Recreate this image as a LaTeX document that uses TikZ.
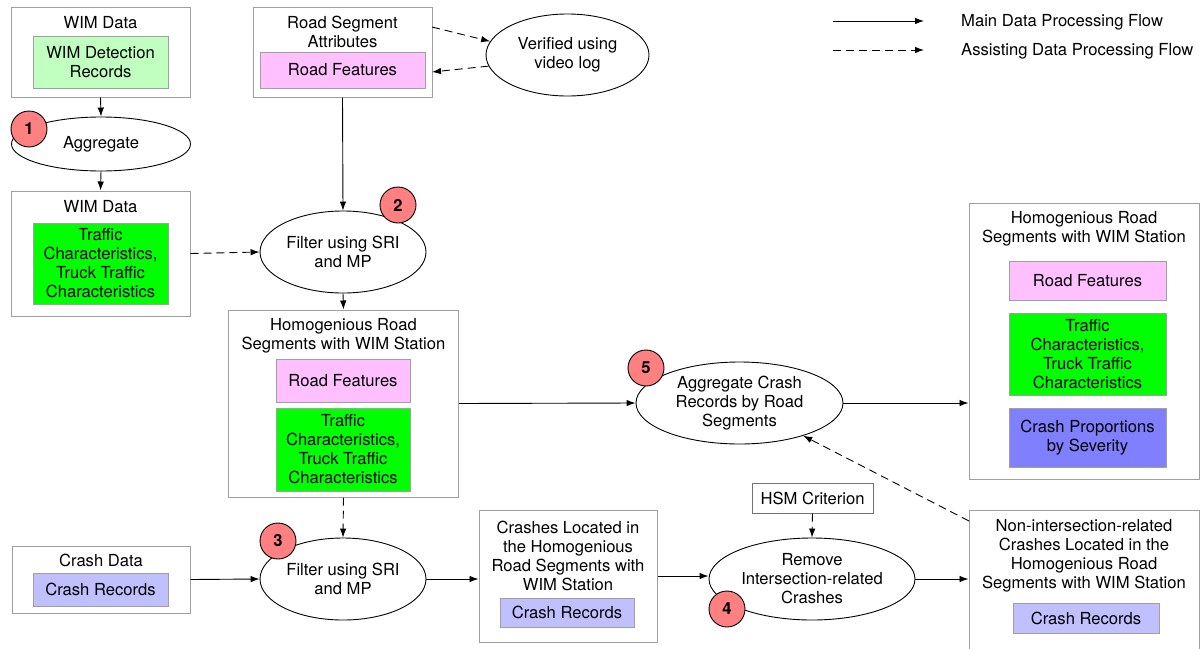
\documentclass[tikz,border=0pt]{standalone}
\usepackage{fontspec}
\setmainfont{TeX Gyre Heros}
\usetikzlibrary{shapes.geometric,arrows.meta}
\definecolor{lgreen}{HTML}{C0FFC0}
\definecolor{bgreen}{HTML}{00FF00}
\definecolor{lpink}{HTML}{FFC0FF}
\definecolor{lblue}{HTML}{C0C0FF}
\definecolor{mblue}{HTML}{8080FF}
\definecolor{badgered}{HTML}{FF8080}
\definecolor{boxgray}{HTML}{A0A0A0}
\begin{document}
\begin{tikzpicture}[x=1pt,y=-1pt,
  every node/.style={font=\fontsize{16.6}{19}\selectfont, align=center, inner sep=0pt},
  outer/.style={draw=boxgray, line width=1pt, fill=white},
  inbox/.style={draw=boxgray, line width=1pt},
  proc/.style={draw=black, line width=0.9pt, ellipse, fill=white},
  badge/.style={draw=black, line width=0.9pt, circle, fill=badgered, minimum size=36pt, font=\fontsize{16.6}{19}\selectfont\bfseries},
  flow/.style={draw=black, line width=0.9pt, -{Latex[length=9pt,width=6.5pt]}},
  aflow/.style={flow, dash pattern=on 8pt off 5pt}
]
\useasboundingbox (0,0) rectangle (1201,648);
\fill[white] (0,0) rectangle (1201,648);

% WIM Data 1
\node[outer, minimum width=179, minimum height=90] (wim1) at (100.5,52) {};
\node (wim1t) at (100.5,22.5) {WIM Data};
\node[inbox, fill=lgreen, minimum width=135, minimum height=52] (wim1in) at (100.5,62) {WIM Detection\\Records};

% Aggregate
\node[proc, minimum width=179, minimum height=54] (agg1) at (101,144) {Aggregate};
\node[badge] (b1) at (29,129) {1};

% WIM Data 2
\node[outer, minimum width=179, minimum height=125] (wim2) at (100.5,253.5) {};
\node (wim2t) at (100.5,206.5) {WIM Data};
\node[inbox, fill=bgreen, minimum width=135, minimum height=81] (wim2in) at (100.5,263.5) {Traffic\\Characteristics,\\Truck Traffic\\Characteristics};

% Road Segment Attributes
\node[outer, minimum width=179, minimum height=90] (rsa) at (342.5,52) {};
\node (rsat) at (342.5,32) {Road Segment\\Attributes};
\node[inbox, fill=lpink, minimum width=165, minimum height=36] (rsain) at (342.5,70) {Road Features};

% Verified
\node[proc, minimum width=163, minimum height=82] (ver) at (567.5,55) {Verified using\\video log};

% Filter 1
\node[proc, minimum width=166, minimum height=82] (filt1) at (343,252) {Filter using SRI\\and MP};
\node[badge] (b2) at (398,205) {2};

% Homogenious box
\node[outer, minimum width=230, minimum height=187] (homog) at (343.5,403.5) {};
\node (homogt) at (343.5,335.5) {Homogenious Road\\Segments with WIM Station};
\node[inbox, fill=lpink, minimum width=134, minimum height=43] (homogp) at (343,380.5) {Road Features};
\node[inbox, fill=bgreen, minimum width=134, minimum height=83] (homogg) at (343,449.5) {Traffic\\Characteristics,\\Truck Traffic\\Characteristics};

% Filter 2
\node[proc, minimum width=166, minimum height=82] (filt2) at (343,579) {Filter using SRI\\and MP};
\node[badge] (b3) at (278,541) {3};

% Crash data
\node[outer, minimum width=178, minimum height=67] (cd) at (101,579.5) {};
\node (cdt) at (101,560.5) {Crash Data};
\node[inbox, fill=lblue, minimum width=135, minimum height=33] (cdin) at (100.5,589.5) {Crash Records};

% Crashes located
\node[outer, minimum width=178, minimum height=132] (crashes) at (568,576) {};
\node (crashest) at (568,555.5) {Crashes Located in\\the Homogenious\\Road Segments with\\WIM Station};
\node[inbox, fill=lblue, minimum width=134, minimum height=29] (crashesin) at (567,612.5) {Crash Records};

% HSM
\node[outer, draw=black!55, minimum width=121, minimum height=30] (hsm) at (812.5,498) {HSM Criterion};

% Remove
\node[proc, minimum width=206, minimum height=82] (remove) at (812,579) {Remove\\Intersection-related\\Crashes};
\node[badge] (b4) at (727,609) {4};

% Non-intersection
\node[outer, minimum width=230, minimum height=150] (nonint) at (1084,585) {};
\node (nonintt) at (1084,555.5) {Non-intersection-related\\Crashes Located in the\\Homogenious Road\\Segments with WIM Station};
\node[inbox, fill=lblue, minimum width=146, minimum height=30] (nonintin) at (1086,618) {Crash Records};

% Aggregate crash
\node[proc, minimum width=207, minimum height=82] (aggc) at (739.5,403) {Aggregate Crash\\Records by Road\\Segments};
\node[badge] (b5) at (646,368) {5};

% Final box
\node[outer, minimum width=230, minimum height=276] (final) at (1084,341) {};
\node (finalt) at (1084,228.5) {Homogenious Road\\Segments with WIM Station};
\node[inbox, fill=lpink, minimum width=157, minimum height=39] (finalp) at (1087.5,280.5) {Road Features};
\node[inbox, fill=bgreen, minimum width=157, minimum height=82] (finalg) at (1087.5,354) {Traffic\\Characteristics,\\Truck Traffic\\Characteristics};
\node[inbox, fill=mblue, minimum width=157, minimum height=59] (finalb) at (1087.5,437.5) {Crash Proportions\\by Severity};

% Connectors
\draw[flow] (wim1.south) -- (agg1.north);
\draw[flow] (agg1.south) -- (wim2.north);
\draw[aflow] (wim2.east) -- (filt1.west);
\draw[flow] (rsa.south) -- (filt1.north);
\coordinate (rsaA) at (432,27);
\coordinate (rsaB) at (432,72);
\draw[aflow] (rsaA) -- (ver.170);
\draw[aflow] (ver.188) -- (rsaB);
\draw[flow] (filt1.south) -- (homog.north);
\draw[aflow] (homog.south) -- (filt2.north);
\draw[flow] (cd.east) -- (filt2.west);
\draw[flow] (filt2.east) -- (filt2.east -| crashes.west);
\draw[flow] (crashes.east) -- (crashes.east -| remove.west);
\draw[aflow] (hsm.south) -- (remove.north);
\draw[flow] (remove.east) -- (remove.east -| nonint.west);
\coordinate (nonA) at (969,521);
\draw[aflow] (nonA) -- (aggc);
\draw[flow] (homog.east) -- (aggc.west);
\draw[flow] (aggc.east) -- (aggc.east -| final.west);

% Legend
\coordinate (l1a) at (833,21);
\coordinate (l1b) at (924,21);
\coordinate (l2a) at (833,50);
\coordinate (l2b) at (924,50);
\draw[flow] (l1a) -- (l1b);
\draw[aflow] (l2a) -- (l2b);
\node[anchor=west] (leg1) at (961,22) {Main Data Processing Flow};
\node[anchor=west] (leg2) at (961,51) {Assisting Data Processing Flow};
\end{tikzpicture}
\end{document}
